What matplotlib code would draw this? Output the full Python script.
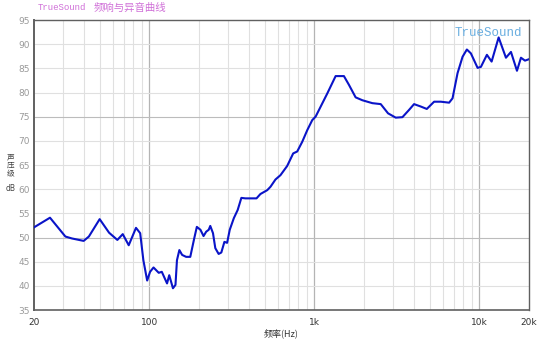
import matplotlib
matplotlib.use("Agg")
import matplotlib.pyplot as plt
from matplotlib.ticker import FixedLocator, NullFormatter

# frequency response
freq = [20, 25, 31, 34, 40, 43, 50, 57, 64, 69, 75, 83, 88, 92, 97, 101, 106,
        114, 119, 128, 132, 139, 144, 147, 152, 158, 167, 177, 187, 194, 204,
        213, 221, 229, 234, 243, 251, 263, 273, 285, 296, 307, 325, 343, 361,
        382, 446, 471, 518, 542, 581, 623, 684, 744, 787, 844, 905, 971, 1017,
        1197, 1345, 1510, 1619, 1778, 1954, 2094, 2245, 2524, 2794, 3111, 3416,
        3746, 4018, 4413, 4799, 5314, 5835, 6553, 6873, 7369, 7905, 8393, 8877,
        9748, 10209, 11101, 11855, 13075, 14478, 15529, 16885, 17854, 18886, 20000]
spl = [52.1, 54.1, 50.2, 49.8, 49.3, 50.2, 53.8, 51.0, 49.5, 50.7, 48.4, 52.0,
       50.9, 45.3, 41.1, 42.9, 43.8, 42.7, 42.9, 40.5, 42.2, 39.5, 40.2, 45.3,
       47.4, 46.4, 46.0, 46.0, 49.8, 52.2, 51.6, 50.3, 51.2, 51.6, 52.4, 50.9,
       47.8, 46.6, 46.9, 49.1, 48.9, 51.6, 54.0, 55.7, 58.2, 58.1, 58.1, 59.0,
       59.8, 60.5, 62.0, 62.9, 64.8, 67.4, 67.8, 69.8, 72.2, 74.3, 75.0, 79.8,
       83.4, 83.4, 81.6, 79.0, 78.4, 78.1, 77.8, 77.6, 75.7, 74.8, 74.9, 76.4,
       77.6, 77.1, 76.6, 78.1, 78.1, 77.9, 78.8, 84.0, 87.4, 88.9, 88.1, 85.1,
       85.3, 87.8, 86.4, 91.4, 87.2, 88.4, 84.5, 87.2, 86.6, 86.9]

xticks = [20, 100, 1000, 10000, 20000]
xticklabels = ["20", "100", "1k", "10k", "20k"]
yticks = list(range(35, 96, 5))

plt.rcParams['font.family'] = ['DejaVu Sans', 'Noto Sans CJK SC']

fig = plt.figure(figsize=(5.5, 3.44), dpi=100)
ax = fig.add_axes([0.0618, 0.0988, 0.9002, 0.8430])

# grid: minor lines light, decades darker
minor = [m * d for d in (10, 100, 1000, 10000) for m in range(2, 10)]
for f in minor:
    if 20 < f < 20000:
        ax.axvline(f, color='#e0e0e0', lw=0.8, zorder=0)
for f in (100, 1000, 10000):
    ax.axvline(f, color='#b4b4b4', lw=0.9, zorder=0)
for y in yticks:
    c = '#bcbcbc' if y in (50, 75) else '#e0e0e0'
    ax.axhline(y, color=c, lw=0.8, zorder=0)

ax.plot(freq, spl, color='#0a14c8', lw=1.5, zorder=3)

ax.set_xscale('log')
ax.set_xlim(20, 20000)
ax.set_ylim(35, 95)
ax.xaxis.set_major_locator(FixedLocator(xticks))
ax.xaxis.set_minor_locator(FixedLocator([]))
ax.xaxis.set_minor_formatter(NullFormatter())
ax.set_xticks(xticks)
ax.set_xticklabels(xticklabels)
ax.set_yticks(yticks)
ax.tick_params(axis='both', length=0, labelsize=6.5)
ax.tick_params(axis='y', colors='#9a9a9a', pad=3)
ax.tick_params(axis='x', colors='#333333', pad=6)

for s in ax.spines.values():
    s.set_color('#606060')
    s.set_linewidth(1.0)
ax.spines['left'].set_linewidth(1.4)
ax.spines['bottom'].set_linewidth(1.2)

ax.set_xlabel("频率(Hz)", fontsize=6.5, color='#333333',
              family=['Noto Sans CJK SC', 'DejaVu Sans'], labelpad=1)

# stacked y label
fig.text(0.020, 0.518, "声\n压\n级", fontsize=5.5, color='#444444',
         family=['Noto Sans CJK SC'], ha='center', va='center', linespacing=1.0)
fig.text(0.020, 0.453, "dB", fontsize=5.5, color='#444444', ha='center', va='center')

fig.text(0.069, 0.977, "TrueSound", fontsize=6.5, color='#d070d8',
         family='Liberation Mono', ha='left', va='center')
fig.text(0.171, 0.977, "频响与异音曲线", fontsize=7.5, color='#d070d8',
         family=['Noto Sans CJK SC'], ha='left', va='center')

ax.text(0.985, 0.975, "TrueSound", transform=ax.transAxes, fontsize=9,
        color='#6aaee0', family='Liberation Mono', ha='right', va='top')

fig.savefig("out.png", dpi=100)
